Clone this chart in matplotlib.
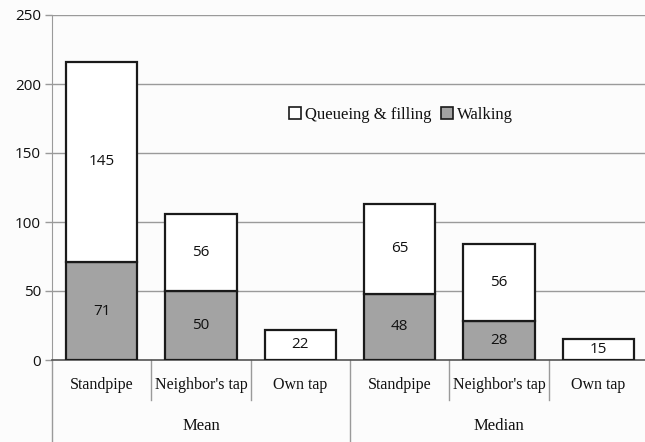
import matplotlib
matplotlib.use("Agg")
import matplotlib.pyplot as plt
from matplotlib.patches import Patch
import matplotlib.transforms as mtransforms

groups = ["Mean", "Median"]
categories = ["Standpipe", "Neighbor's tap", "Own tap", "Standpipe", "Neighbor's tap", "Own tap"]
walking = [71, 50, 0, 48, 28, 0]
queueing = [145, 56, 22, 65, 56, 15]
yticks = [0, 50, 100, 150, 200, 250]

W, H = 645, 442
fig = plt.figure(figsize=(W / 100, H / 100), dpi=100)
fig.patch.set_facecolor("#fcfcfc")
ax = fig.add_axes([52 / W, 82 / H, (648 - 52) / W, (360 - 15) / H])
ax.set_facecolor("#fcfcfc")

serif = ["Liberation Serif", "DejaVu Serif"]
sans = ["Open Sans", "DejaVu Sans"]
tc = "#111111"

x = list(range(len(categories)))
edge = "#1a1a1a"
ax.bar(x, walking, width=0.72, color="#a3a3a3", edgecolor=edge, linewidth=1.6, zorder=3)
ax.bar(x, queueing, bottom=walking, width=0.72, color="white", edgecolor=edge, linewidth=1.6, zorder=3)

for xi, w, q in zip(x, walking, queueing):
    if w > 0:
        ax.text(xi, w / 2, str(w), ha="center", va="center", fontsize=11, family=sans, color=tc, zorder=4)
    if q > 0:
        ax.text(xi, w + q / 2, str(q), ha="center", va="center", fontsize=11, family=sans, color=tc, zorder=4)

ax.set_xlim(-0.5, 5.5)
ax.set_ylim(0, 250)
ax.set_yticks(yticks)
ax.set_yticklabels([str(t) for t in yticks], fontsize=11, family=sans, color=tc)
ax.yaxis.grid(True, color="#9a9a9a", linewidth=1.0, zorder=0)
ax.tick_params(axis="y", length=5, color="#9a9a9a", width=1.0, pad=3)
ax.set_xticks([])
for s in ["top", "right"]:
    ax.spines[s].set_visible(False)
ax.spines["left"].set_color("#9a9a9a")
ax.spines["bottom"].set_color("#555555")
ax.spines["bottom"].set_linewidth(1.2)

trans = mtransforms.blended_transform_factory(ax.transData, ax.transAxes)
px = 1 / (360 - 15)  # axes fraction per pixel
for b in [0.5, 1.5, 3.5, 4.5]:
    ax.plot([b, b], [0, -40 * px], transform=trans, color="#9a9a9a", lw=1.0, clip_on=False)
for b in [-0.5, 2.5, 5.5]:
    ax.plot([b, b], [0, -90 * px], transform=trans, color="#9a9a9a", lw=1.0, clip_on=False)

for xi, c in zip(x, categories):
    ax.text(xi, -25 * px, c, transform=trans, ha="center", va="center", fontsize=11.5, family=serif, color=tc)
for gi, g in enumerate(groups):
    ax.text(gi * 3 + 1, -66 * px, g, transform=trans, ha="center", va="center", fontsize=12, family=serif, color=tc)

handles = [Patch(facecolor="white", edgecolor=edge, linewidth=1.2, label="Queueing & filling"),
           Patch(facecolor="#a3a3a3", edgecolor=edge, linewidth=1.2, label="Walking")]
fig.legend(handles=handles, loc="center", bbox_to_anchor=(401 / W, 1 - 115 / H), ncol=2, frameon=False,
           handlelength=0.7, handleheight=0.7, handletextpad=0.25, columnspacing=0.6,
           prop={"family": serif, "size": 12}, labelcolor=tc)

fig.savefig("out.png", dpi=100, facecolor=fig.get_facecolor())
